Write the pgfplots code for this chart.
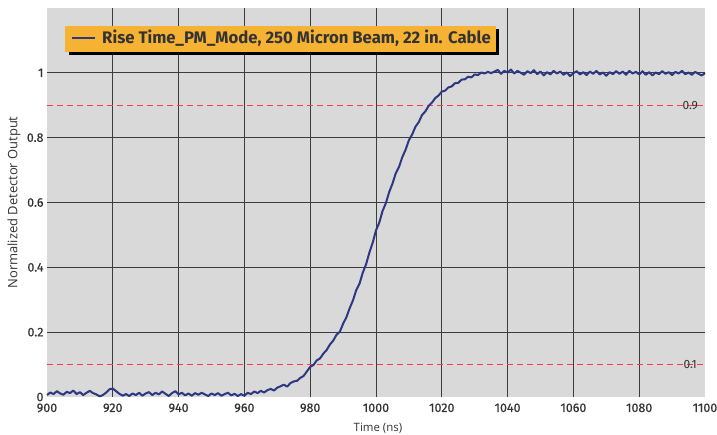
\documentclass[border=0pt]{standalone}
\usepackage{fontspec}
\setmainfont{Fira Sans}
\newfontfamily\tickfont[FakeBold=0.6]{Fira Sans}
\newfontfamily\labfont{Open Sans}
\usepackage{pgfplots}
\pgfplotsset{compat=1.18}
\usetikzlibrary{shadows}
\definecolor{bgc}{HTML}{D9D9D9}
\definecolor{gridc}{HTML}{3C3C3C}
\definecolor{navy}{HTML}{2E3782}
\definecolor{legc}{HTML}{F6B233}
\definecolor{txt}{HTML}{333333}
\definecolor{redd}{HTML}{FF3A4C}
\begin{document}
\begin{tikzpicture}
\useasboundingbox (-47bp,-38bp) rectangle (670bp,397bp);
\begin{axis}[
  at={(0,0)}, anchor=south west,
  scale only axis, width=658bp, height=389bp,
  xmin=900, xmax=1100, ymin=0, ymax=1.2,
  axis background/.style={fill=bgc},
  axis line style={draw=none},
  xtick={900,920,...,1100},
  ytick={0,0.2,0.4,0.6,0.8,1},
  yticklabels={0,0.2,0.4,0.6,0.8,1},
  extra x ticks={920,940,...,1080},
  extra x tick labels={},
  extra y ticks={0.2,0.4,0.6,0.8,1},
  extra y tick labels={},
  extra tick style={grid=major, major grid style={gridc, line width=0.7bp}},
  major tick length=0pt,
  tick label style={font=\tickfont\fontsize{12.5}{14}\selectfont\color{txt}},
  /pgf/number format/assume math mode=true,
  /pgf/number format/1000 sep={},
  xticklabel style={yshift=-3bp},
  yticklabel style={xshift=0bp},
  xlabel={Time (ns)},
  ylabel={Normalized Detector Output},
  every axis x label/.style={at={([yshift=-31bp]rel axis cs:0.503,0)}, anchor=center, font=\labfont\fontsize{11.5}{13}\selectfont\color{txt}},
  every axis y label/.style={at={([xshift=-33bp]rel axis cs:0,0.5)}, anchor=center, rotate=90, font=\labfont\fontsize{13}{15}\selectfont\color{txt}},
  clip=false,
  unbounded coords=jump,
]
\addplot[color=redd, dash pattern=on 6bp off 4bp, line width=1.2bp, forget plot] coordinates {(900,0.1) (1100,0.1) (1000,nan) (900,0.9) (1100,0.9)};
\addplot[navy, line width=2bp, line join=round] table {
x y
900 0.006
901 0.014
902 0.009
903 0.018
904 0.011
905 0.007
906 0.016
907 0.012
908 0.020
909 0.009
910 0.015
911 0.006
912 0.013
913 0.019
914 0.012
915 0.008
916 0.002
917 0.006
918 0.014
919 0.024
920 0.026
921 0.018
922 0.010
923 0.004
924 0.009
925 0.003
926 0.011
927 0.006
928 0.013
929 0.004
930 0.011
931 0.015
932 0.006
933 0.013
934 0.008
935 0.017
936 0.010
937 0.003
938 0.012
939 0.018
940 0.008
941 0.013
942 0.005
943 0.011
944 0.004
945 0.012
946 0.007
947 0.013
948 0.008
949 0.003
950 0.011
951 0.006
952 0.012
953 0.004
954 0.009
955 0.013
956 0.005
957 0.010
958 0.003
959 0.009
960 0.004
961 0.013
962 0.009
963 0.017
964 0.012
965 0.019
966 0.014
967 0.021
968 0.025
969 0.020
970 0.029
971 0.033
972 0.038
973 0.032
974 0.043
975 0.048
976 0.050
977 0.059
978 0.065
979 0.079
980 0.093
981 0.099
982 0.113
983 0.119
984 0.134
985 0.145
986 0.162
987 0.174
988 0.192
989 0.201
990 0.226
991 0.246
992 0.274
993 0.298
994 0.330
995 0.350
996 0.384
997 0.410
998 0.446
999 0.476
1000 0.514
1001 0.538
1002 0.574
1003 0.598
1004 0.632
1005 0.658
1006 0.690
1007 0.710
1008 0.740
1009 0.763
1010 0.792
1011 0.810
1012 0.834
1013 0.848
1014 0.870
1015 0.881
1016 0.898
1017 0.908
1018 0.922
1019 0.930
1020 0.942
1021 0.945
1022 0.955
1023 0.958
1024 0.968
1025 0.969
1026 0.979
1027 0.980
1028 0.988
1029 0.986
1030 0.995
1031 0.993
1032 1.001
1033 0.998
1034 1.003
1035 0.999
1036 1.004
1037 1.009
1038 0.997
1039 1.006
1040 1.001
1041 1.010
1042 0.998
1043 1.006
1044 1.000
1045 0.994
1046 1.005
1047 0.999
1048 1.008
1049 0.996
1050 1.004
1051 0.992
1052 1.002
1053 0.995
1054 1.006
1055 0.998
1056 1.004
1057 0.994
1058 1.001
1059 0.990
1060 0.999
1061 1.005
1062 0.995
1063 1.002
1064 0.993
1065 1.004
1066 0.997
1067 1.006
1068 0.995
1069 1.001
1070 0.991
1071 1.002
1072 0.996
1073 1.005
1074 0.997
1075 1.004
1076 0.994
1077 1.006
1078 0.998
1079 1.003
1080 0.995
1081 1.005
1082 0.994
1083 1.002
1084 0.992
1085 1.001
1086 0.996
1087 1.005
1088 0.997
1089 1.002
1090 0.993
1091 1.003
1092 0.998
1093 1.006
1094 0.996
1095 1.001
1096 0.994
1097 1.003
1098 0.997
1099 0.992
1100 0.999
};
\node[font=\fontsize{12}{14}\selectfont, text=txt, inner sep=0pt] at (axis cs:1095.5,0.9) {0.9};
\node[font=\fontsize{12}{14}\selectfont, text=txt, inner sep=0pt] at (axis cs:1095.5,0.1) {0.1};
\node[anchor=north west, fill=legc, inner xsep=0pt, inner ysep=0pt, minimum height=26bp,
      drop shadow={shadow xshift=3.5bp, shadow yshift=-2.5bp, fill=black, opacity=1},
      font=\fontsize{16.8}{18}\selectfont\bfseries, text=txt]
  at (rel axis cs:0.0274,0.9537)
  {\hspace*{7bp}\textcolor{navy}{\rule[0.28em]{23bp}{1.8bp}}\hspace*{7bp}Rise Time\_PM\_Mode, 250 Micron Beam, 22 in. Cable\hspace*{5bp}\strut};
\end{axis}
\end{tikzpicture}
\end{document}
